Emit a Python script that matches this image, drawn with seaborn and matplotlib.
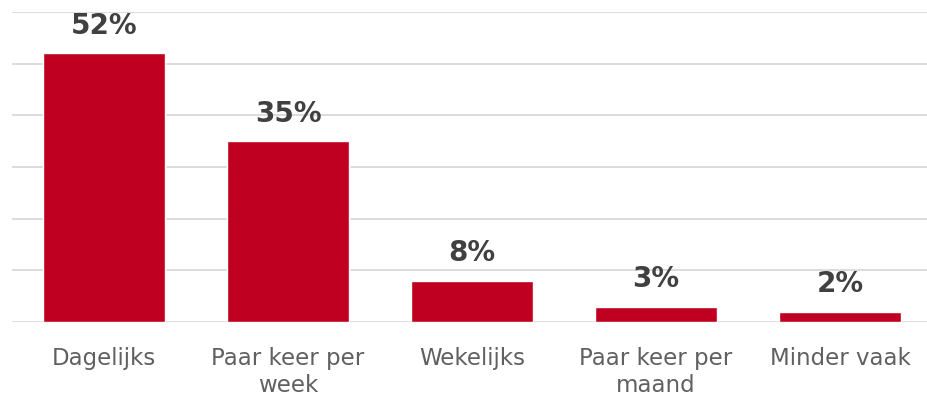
import matplotlib
matplotlib.use("Agg")
import matplotlib.pyplot as plt
import seaborn as sns
import pandas as pd

categories = ["Dagelijks", "Paar keer per\nweek", "Wekelijks", "Paar keer per\nmaand", "Minder vaak"]
percentages = [52, 35, 8, 3, 2]

sns.set_theme(style="white")
plt.rcParams["font.family"] = ["DejaVu Sans"]

df = pd.DataFrame({"categorie": categories, "procent": percentages})

fig = plt.figure(figsize=(9.27, 4.09), dpi=100)
ax = fig.add_axes([12 / 927, 87 / 409, 920 / 927, 310 / 409])

sns.barplot(data=df, x="categorie", y="procent", color="#C00020",
            saturation=1, width=0.663, ax=ax, zorder=3)

ax.set_ylim(0, 60)
ax.set_xlim(-0.5, 4.5)
ax.set_yticks(range(0, 61, 10))
ax.yaxis.grid(True, color="#D9D9D9", linewidth=1.3, zorder=0)
ax.set_yticklabels([])
ax.tick_params(axis="y", length=0)
ax.tick_params(axis="x", length=0, pad=18, labelsize=16.5, labelcolor="#606060")
for lbl in ax.get_xticklabels():
    lbl.set_linespacing(1.2)
ax.set_xlabel("")
ax.set_ylabel("")
for s in ax.spines.values():
    s.set_visible(False)

for i, v in enumerate(percentages):
    ax.annotate(f"{v}%", xy=(i, v), xytext=(0, 9.5), textcoords="offset points",
                ha="center", va="bottom", fontsize=20, fontweight="bold",
                color="#404040", zorder=4)

fig.savefig("out.png", dpi=100)
